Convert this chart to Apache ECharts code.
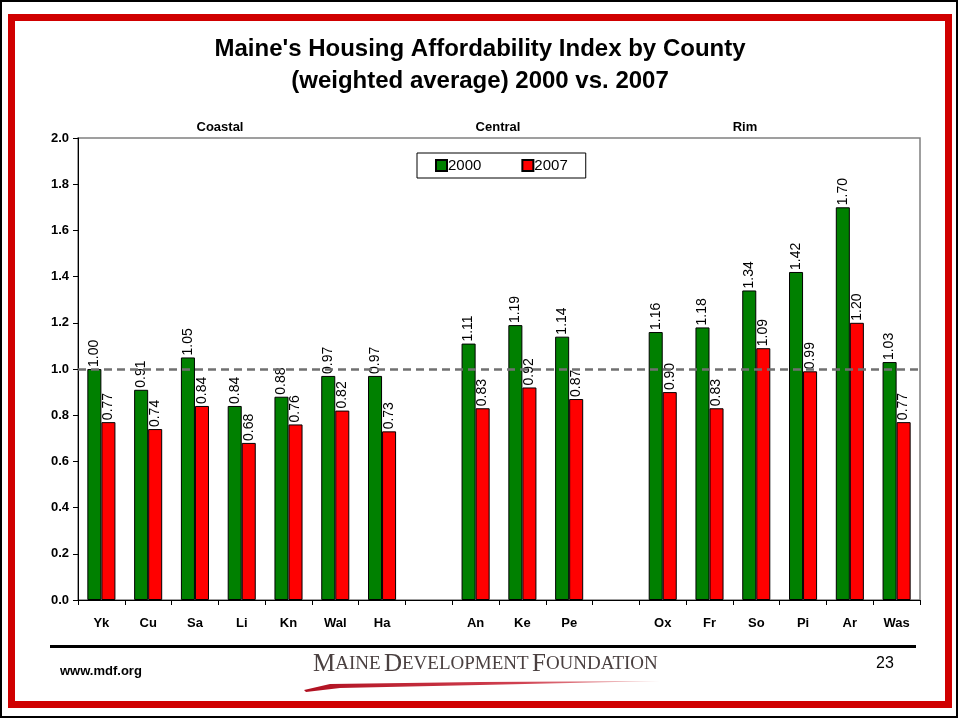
<!DOCTYPE html>
<html>
	<head>
		<meta charset="utf-8">
		<title>Maine Housing Affordability</title>
		<script src="https://cdn.jsdelivr.net/npm/echarts@6/dist/echarts.min.js"></script>
	</head>
	<body style="margin:0;background:#fff;">
		<div id="main" style="width: 960px; height: 719px;"></div>
		<script>
			// counties, with empty slots between the regional groups
			var counties = ['Yk','Cu','Sa','Li','Kn','Wal','Ha','','An','Ke','Pe','','Ox','Fr','So','Pi','Ar','Was'];
			var y2000 = [1.00,0.91,1.05,0.84,0.88,0.97,0.97,null,1.11,1.19,1.14,null,1.16,1.18,1.34,1.42,1.70,1.03];
			var y2007 = [0.77,0.74,0.84,0.68,0.76,0.82,0.73,null,0.83,0.92,0.87,null,0.90,0.83,1.09,0.99,1.20,0.77];
			var yTicks = [0.0,0.2,0.4,0.6,0.8,1.0,1.2,1.4,1.6,1.8,2.0];
			var groups = [{name:'Coastal', x:220},{name:'Central', x:498},{name:'Rim', x:745}];

			var font = 'Arial, "Liberation Sans", sans-serif';
			var serif = '"Liberation Serif", "DejaVu Serif", serif';

			var barLabel = {
				show: true,
				position: 'top',
				rotate: 90,
				align: 'left',
				verticalAlign: 'middle',
				distance: 2,
				color: '#000',
				fontSize: 14,
				fontFamily: font,
				formatter: function(p){ return p.value == null ? '' : p.value.toFixed(2); }
			};

			var graphics = [
				// outer black frame
				{type:'rect', shape:{x:1, y:1, width:956, height:716}, style:{fill:'none', stroke:'#000', lineWidth:2}, silent:true},
				// red slide border
				{type:'rect', shape:{x:11.5, y:17.5, width:937, height:687}, style:{fill:'none', stroke:'#d00000', lineWidth:7}, silent:true},
				// footer line
				{type:'rect', shape:{x:50, y:645, width:866, height:3}, style:{fill:'#000'}, silent:true},
				{type:'text', left:60, top:665, style:{text:'www.mdf.org', font:'bold 13px ' + font, fill:'#000'}},
				{type:'text', left:876, top:656, style:{text:'23', font:'16px ' + font, fill:'#000'}},
				{type:'text', left:313, top:652, style:{
					text:'{b|M}{s|AINE} {b|D}{s|EVELOPMENT} {b|F}{s|OUNDATION}',
					rich:{
						b:{fontFamily:serif, fontSize:25, fill:'#4a4040'},
						s:{fontFamily:serif, fontSize:19, fill:'#4a4040'}
					}
				}},
				// red swoosh under the logo
				{type:'polygon', shape:{points:[[304,690],[330,684],[480,682],[660,681],[480,685],[340,688],[306,692]]},
					style:{fill:new echarts.graphic.LinearGradient(0,0,1,0,[{offset:0,color:'#b01020'},{offset:0.6,color:'#d04050'},{offset:1,color:'#f0c0c0'}])}, silent:true}
			];
			groups.forEach(function(g){
				graphics.push({type:'text', x:g.x, y:127, style:{text:g.name, font:'bold 13px ' + font, fill:'#000', textAlign:'center', textVerticalAlign:'middle'}});
			});

			var mychart = echarts.init(document.getElementById('main'));
			var option = {
				backgroundColor: '#fff',
				animation: false,
				title: {
					text: "Maine's Housing Affordability Index by County\n(weighted average) 2000 vs. 2007",
					left: 'center',
					top: 28,
					textStyle: {
						fontFamily: font,
						fontSize: 24,
						fontWeight: 'bold',
						color: '#000',
						lineHeight: 32
					}
				},
				legend: {
					left: 417,
					top: 153,
					padding: [5, 18],
					itemGap: 40,
					icon: 'rect',
					itemWidth: 11,
					itemHeight: 11,
					backgroundColor: '#fff',
					borderColor: '#000',
					borderWidth: 1,
					textStyle: {fontFamily: font, fontSize: 15, color: '#000', padding: [0,0,0,-4]},
					data: ['2000','2007']
				},
				grid: {
					left: 78,
					right: 40,
					top: 138,
					bottom: 119,
					show: true,
					borderColor: '#808080',
					borderWidth: 1.5
				},
				xAxis: {
					type: 'category',
					data: counties,
					axisLine: {lineStyle: {color: '#000', width: 1}},
					axisTick: {show: true, length: 5, lineStyle: {color: '#000'}},
					axisLabel: {fontFamily: font, fontSize: 13, fontWeight: 'bold', color: '#000', margin: 17}
				},
				yAxis: {
					type: 'value',
					min: 0,
					max: 2,
					interval: 0.2,
					axisLine: {show: true, lineStyle: {color: '#000', width: 1}},
					axisTick: {show: true, length: 5, lineStyle: {color: '#000'}},
					splitLine: {show: false},
					axisLabel: {
						fontFamily: font, fontSize: 13, fontWeight: 'bold', color: '#000', margin: 9,
						formatter: function(v){ return yTicks.indexOf(Math.round(v*10)/10) >= 0 ? v.toFixed(1) : ''; }
					}
				},
				series: [
					{
						name: '2000',
						type: 'bar',
						data: y2000,
						barWidth: '30%',
						barGap: '0%',
						itemStyle: {color: '#008000', borderColor: '#000', borderWidth: 1},
						label: barLabel,
						markLine: {
							silent: true,
							symbol: 'none',
							label: {show: false},
							lineStyle: {color: '#707070', type: [8, 5], width: 2.5},
							data: [{yAxis: 1.0}]
						},
						z: 2
					},
					{
						name: '2007',
						type: 'bar',
						data: y2007,
						barWidth: '30%',
						itemStyle: {color: '#ff0000', borderColor: '#000', borderWidth: 1},
						label: barLabel,
						z: 2
					}
				],
				graphic: graphics
			};
			mychart.setOption(option);
		</script>
	</body>
</html>
